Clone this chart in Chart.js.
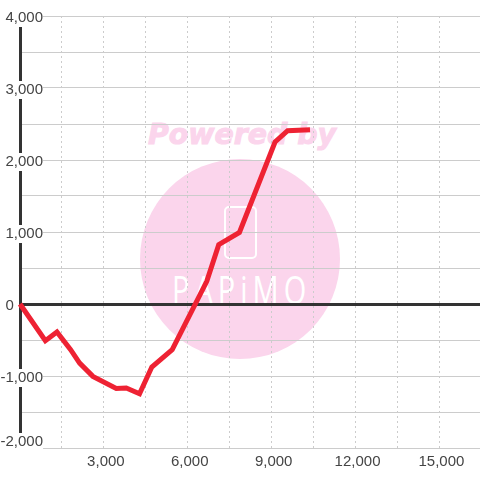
<!DOCTYPE html>
<html lang="ja">

<head>
    <meta charset="UTF-8">
    <title>Chart</title>
    <script src="https://cdn.jsdelivr.net/npm/chart.js"></script>
    <style>
        html, body { margin: 0; padding: 0; background: #fff; }
        #box { position: relative; width: 480px; height: 480px; overflow: hidden; }
        #myChart { position: absolute; left: 0; top: 0; }
        .circle { position: absolute; left: 140px; top: 159px; width: 200px; height: 200px; border-radius: 50%; background: #fbd5ec; }
        .powered { position: absolute; left: 148px; top: 118px; font: italic bold 28.4px "DejaVu Sans"; color: #fbd5ec; white-space: nowrap; -webkit-text-stroke: 1px #fbd5ec; }
        .phone { position: absolute; left: 224px; top: 206px; width: 29px; height: 49px; border: 2px solid #fff; border-radius: 5px; }
        .logo { position: absolute; left: 172px; top: 264px; font: 400 29px "Open Sans"; color: #fff; letter-spacing: 5px; white-space: nowrap; transform: scaleY(1.3); transform-origin: left top; }
    </style>
</head>

<body>
    <div id="box">
        <div class="circle"></div>
        <div class="powered">Powered by</div>
        <div class="phone"></div>
        <div class="logo">PAPiMO</div>
        <canvas id="myChart" width="480" height="480"></canvas>
    </div>

    <script>
        const games = [0, 907, 1321, 1810, 2132, 2607, 3443, 3800, 4275, 4714, 5443, 6679, 7107, 7846, 9121, 9571, 10371];
        const coins = [0, -510, -389, -635, -820, -1005, -1172, -1167, -1246, -875, -635, 314, 824, 994, 2250, 2407, 2421];
        const xTicks = [0, 1500, 3000, 4500, 6000, 7500, 9000, 10500, 12000, 13500, 15000];

        const gridColor = '#cccccc';
        const axisColor = '#333333';
        const textColor = '#444444';

        function formatNumber(value) {
            return value.toLocaleString('en-US');
        }

        const puntos = games.map(function (g, i) {
            return { x: g, y: coins[i] };
        });

        // the bottom y label sits higher than its line
        const subirEtiqueta = {
            id: 'subirEtiqueta',
            beforeDraw: function (chart) {
                chart.scales.y.getLabelItems()[0].options.translation[1] -= 8;
            }
        };

        new Chart(document.getElementById('myChart'), {
            type: 'line',
            plugins: [subirEtiqueta],
            data: {
                datasets: [{
                    data: puntos,
                    borderColor: '#ee2233',
                    borderWidth: 5,
                    pointRadius: 0,
                    tension: 0,
                    clip: false
                }]
            },
            options: {
                responsive: false,
                animation: false,
                devicePixelRatio: 1,
                layout: { padding: { left: 20, top: 16, right: 0, bottom: 0 } },
                plugins: { legend: { display: false }, tooltip: { enabled: false } },
                scales: {
                    x: {
                        type: 'linear',
                        min: 0,
                        max: 16450,
                        afterBuildTicks: function (scale) {
                            scale.ticks = xTicks.map(function (v) { return { value: v }; });
                        },
                        afterFit: function (scale) {
                            scale.height = 32;
                            scale.paddingRight = 0;
                        },
                        border: { display: false, dash: [2, 3] },
                        grid: {
                            drawTicks: false,
                            color: function (c) { return c.tick && c.tick.value === 0 ? 'transparent' : gridColor; }
                        },
                        ticks: {
                            autoSkip: false,
                            maxRotation: 0,
                            padding: 5,
                            labelOffset: 2,
                            color: textColor,
                            font: { family: '"Liberation Sans"', size: 15 },
                            callback: function (value) {
                                return value > 0 && value % 3000 === 0 ? formatNumber(value) : '';
                            }
                        }
                    },
                    y: {
                        min: -2000,
                        max: 4000,
                        afterFit: function (scale) {
                            scale.width = 0;
                            scale._computeLabelArea = function () {};
                        },
                        border: { color: axisColor, width: 3 },
                        grid: {
                            drawTicks: false,
                            color: function (c) { return c.tick && c.tick.value === 0 ? axisColor : gridColor; },
                            lineWidth: function (c) { return c.tick && c.tick.value === 0 ? 3 : 1; }
                        },
                        ticks: {
                            stepSize: 500,
                            autoSkip: false,
                            padding: -23,
                            labelOffset: 2,
                            color: textColor,
                            font: { family: '"Liberation Sans"', size: 15 },
                            showLabelBackdrop: true,
                            backdropPadding: function (c) {
                                const abajo = c.tick && c.tick.value === -2000 ? 7 : -4;
                                return { top: -3, bottom: abajo, left: 4, right: 3 };
                            },
                            backdropColor: function (c) {
                                return c.tick && c.tick.value !== 0 && c.tick.value % 1000 === 0 ? '#ffffff' : 'transparent';
                            },
                            callback: function (value) {
                                if (value === 0) return '0       ';
                                return value % 1000 === 0 ? formatNumber(value) : '';
                            }
                        }
                    }
                }
            }
        });
    </script>
</body>

</html>
